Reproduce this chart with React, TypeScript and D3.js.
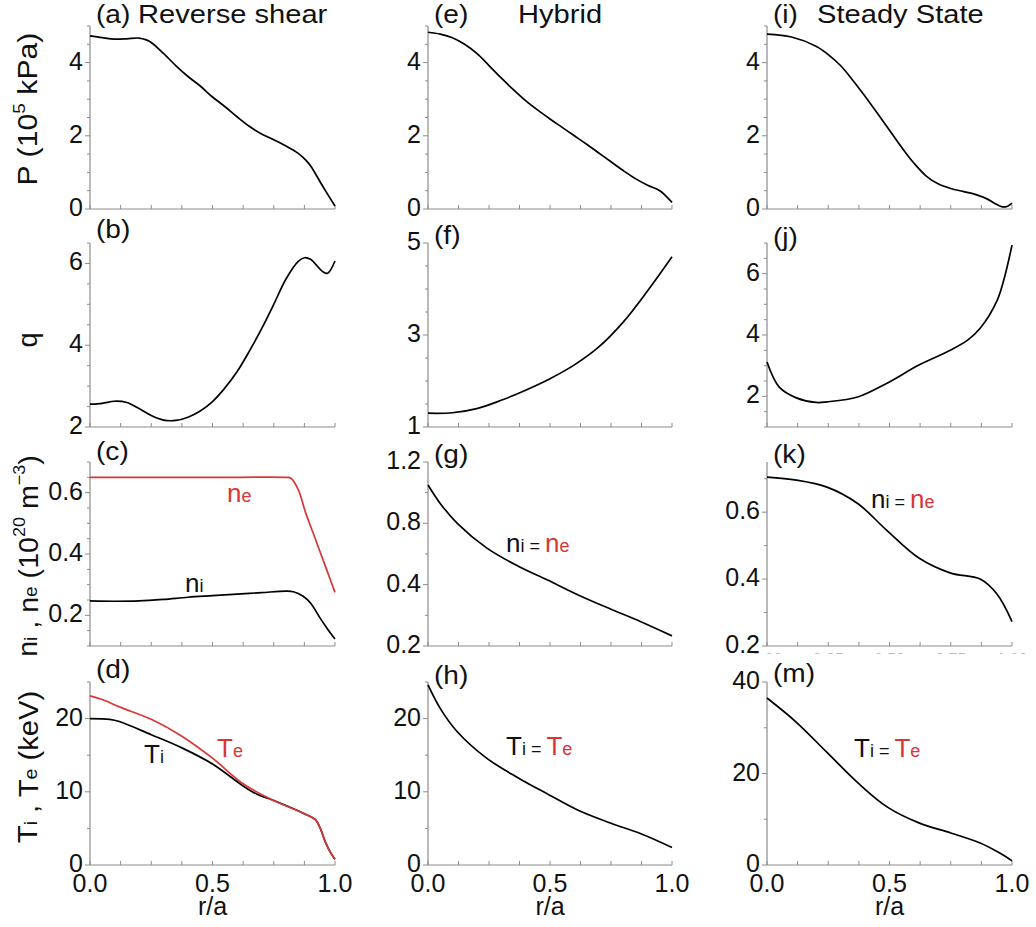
import React from "react";
import * as d3 from "d3";

// ---------- data ----------
// (a) pressure, reverse shear
const rA = [0, 0.05, 0.1, 0.15, 0.2, 0.23, 0.25, 0.3, 0.35, 0.4, 0.45, 0.5, 0.55, 0.6, 0.65, 0.7, 0.75, 0.8, 0.85, 0.88, 0.9, 0.95, 1.0];
const pA = [4.73, 4.68, 4.64, 4.65, 4.67, 4.62, 4.55, 4.25, 3.92, 3.62, 3.36, 3.06, 2.8, 2.52, 2.26, 2.05, 1.89, 1.72, 1.52, 1.34, 1.18, 0.62, 0.08];
// (b) q, reverse shear
const rB = [0, 0.05, 0.1, 0.15, 0.2, 0.25, 0.3, 0.35, 0.4, 0.45, 0.5, 0.55, 0.6, 0.65, 0.7, 0.75, 0.8, 0.85, 0.875, 0.9, 0.95, 0.97, 1.0];
const qB = [2.56, 2.58, 2.63, 2.6, 2.45, 2.28, 2.17, 2.16, 2.24, 2.39, 2.62, 2.95, 3.35, 3.85, 4.4, 5.0, 5.62, 6.05, 6.14, 6.1, 5.8, 5.76, 6.06];
// (c) densities, reverse shear
const rCe = [0, 0.2, 0.4, 0.6, 0.8, 0.82, 0.85, 0.88, 0.91, 0.94, 0.97, 1.0];
const neC = [0.65, 0.65, 0.65, 0.65, 0.65, 0.647, 0.61, 0.535, 0.47, 0.405, 0.34, 0.275];
const rCi = [0, 0.1, 0.2, 0.3, 0.4, 0.5, 0.6, 0.7, 0.8, 0.83, 0.87, 0.9, 0.94, 0.97, 1.0];
const niC = [0.247, 0.246, 0.247, 0.252, 0.259, 0.264, 0.269, 0.274, 0.279, 0.277, 0.262, 0.24, 0.19, 0.155, 0.123];
// (d) temperatures, reverse shear
const rDe = [0, 0.05, 0.12, 0.25, 0.375, 0.5, 0.625, 0.75, 0.875, 0.92, 0.94, 0.96, 0.98, 1.0];
const teD = [23.1, 22.6, 21.6, 19.9, 17.6, 14.6, 11.1, 8.8, 7.0, 6.2, 5.0, 3.2, 1.8, 0.8];
const rDi = [0, 0.08, 0.12, 0.25, 0.375, 0.5, 0.625, 0.68, 0.75, 0.875, 0.92, 0.94, 0.96, 0.98, 1.0];
const tiD = [20.0, 19.9, 19.6, 17.8, 16.0, 13.8, 10.8, 9.7, 8.8, 7.0, 6.2, 5.0, 3.2, 1.8, 0.8];
// (e) pressure, hybrid
const rE = [0, 0.05, 0.1, 0.15, 0.2, 0.25, 0.3, 0.35, 0.4, 0.45, 0.5, 0.55, 0.6, 0.65, 0.7, 0.75, 0.8, 0.85, 0.9, 0.95, 1.0];
const pE = [4.83, 4.78, 4.68, 4.5, 4.25, 3.92, 3.58, 3.26, 2.96, 2.7, 2.46, 2.23, 2.0, 1.77, 1.53, 1.29, 1.05, 0.83, 0.65, 0.5, 0.18];
// (f) q, hybrid
const rF = [0, 0.1, 0.2, 0.3, 0.4, 0.5, 0.6, 0.7, 0.8, 0.9, 1.0];
const qF = [1.3, 1.31, 1.4, 1.58, 1.8, 2.05, 2.35, 2.74, 3.28, 3.96, 4.7];
// (g) density, hybrid
const rG = [0, 0.05, 0.12, 0.24, 0.37, 0.49, 0.62, 0.75, 0.87, 1.0];
const nG = [1.05, 0.93, 0.8, 0.64, 0.52, 0.43, 0.33, 0.24, 0.16, 0.066];
// (h) temperature, hybrid
const rH = [0, 0.05, 0.12, 0.24, 0.37, 0.49, 0.62, 0.75, 0.87, 1.0];
const tH = [24.6, 21.4, 18.2, 14.6, 11.9, 9.7, 7.4, 5.7, 4.3, 2.4];
// (i) pressure, steady state
const rI = [0, 0.1, 0.2, 0.25, 0.3, 0.35, 0.4, 0.45, 0.5, 0.55, 0.6, 0.65, 0.7, 0.75, 0.8, 0.85, 0.9, 0.93, 0.96, 0.98, 1.0];
const pI = [4.78, 4.7, 4.45, 4.22, 3.92, 3.52, 3.08, 2.62, 2.15, 1.68, 1.25, 0.9, 0.68, 0.56, 0.48, 0.4, 0.27, 0.15, 0.06, 0.07, 0.16];
// (j) q, steady state
const rJ = [0, 0.05, 0.12, 0.2, 0.245, 0.37, 0.49, 0.62, 0.75, 0.82, 0.87, 0.94, 0.97, 1.0];
const qJ = [3.12, 2.3, 1.95, 1.8, 1.82, 1.98, 2.43, 3.02, 3.51, 3.84, 4.22, 5.14, 5.9, 6.93];
// (k) density, steady state
const rK = [0, 0.12, 0.245, 0.37, 0.49, 0.62, 0.75, 0.87, 0.94, 1.0];
const nK = [0.705, 0.696, 0.675, 0.626, 0.545, 0.463, 0.418, 0.4, 0.354, 0.273];
// (m) temperature, steady state
const rM = [0, 0.12, 0.245, 0.37, 0.49, 0.62, 0.75, 0.87, 0.95, 1.0];
const tM = [36.5, 31.2, 24.6, 18.0, 12.7, 9.2, 7.0, 4.8, 2.6, 0.9];

const columnTitles = ["Reverse shear", "Hybrid", "Steady State"];
const xTickLabels = [0, 0.5, 1.0];
const faintTicks = [0, 0.25, 0.5, 0.75, 1.0];

// ---------- styling / layout ----------
const FONT = "'Liberation Sans', Arial, sans-serif";
const RED = "#d93636";
const AXIS = "#8c8c8c";
const INK = "#111";
const colX = [[90, 335], [428, 672], [767, 1012]];
const rowY = [[26, 209], [243, 427], [462, 646], [682, 865]];

type Series = { r: number[]; v: number[]; color: string };
type Panel = {
  tag: string; col: number; row: number; domain: [number, number];
  step: number; labels: number[]; fmt?: (v: number) => string;
  series: Series[]; tagDy: number;
};

const f0 = (v: number) => d3.format("d")(v);
const f1 = (v: number) => d3.format(".1f")(v);

const panels: Panel[] = [
  { tag: "(a)", col: 0, row: 0, domain: [0, 5], step: 0.5, labels: [0, 2, 4], fmt: f0, series: [{ r: rA, v: pA, color: "#000" }], tagDy: -3 },
  { tag: "(b)", col: 0, row: 1, domain: [2, 6.5], step: 0.5, labels: [2, 4, 6], fmt: f0, series: [{ r: rB, v: qB, color: "#000" }], tagDy: -5 },
  { tag: "(c)", col: 0, row: 2, domain: [0.1, 0.7], step: 0.05, labels: [0.2, 0.4, 0.6], fmt: f1, series: [{ r: rCe, v: neC, color: RED }, { r: rCi, v: niC, color: "#000" }], tagDy: -2 },
  { tag: "(d)", col: 0, row: 3, domain: [0, 25], step: 5, labels: [0, 10, 20], fmt: f0, series: [{ r: rDi, v: tiD, color: "#000" }, { r: rDe, v: teD, color: RED }], tagDy: -4 },
  { tag: "(e)", col: 1, row: 0, domain: [0, 5], step: 0.5, labels: [0, 2, 4], fmt: f0, series: [{ r: rE, v: pE, color: "#000" }], tagDy: -3 },
  { tag: "(f)", col: 1, row: 1, domain: [1, 5], step: 0.5, labels: [1, 3, 5], fmt: f0, series: [{ r: rF, v: qF, color: "#000" }], tagDy: 1 },
  { tag: "(g)", col: 1, row: 2, domain: [0, 1.2], step: 0.2, labels: [0, 0.4, 0.8, 1.2], fmt: (v) => (v === 0 ? "0.2" : f1(v)), series: [{ r: rG, v: nG, color: "#000" }], tagDy: 1 },
  { tag: "(h)", col: 1, row: 3, domain: [0, 25], step: 5, labels: [0, 10, 20], fmt: f0, series: [{ r: rH, v: tH, color: "#000" }], tagDy: 2 },
  { tag: "(i)", col: 2, row: 0, domain: [0, 5], step: 0.5, labels: [0, 2, 4], fmt: f0, series: [{ r: rI, v: pI, color: "#000" }], tagDy: -3 },
  { tag: "(j)", col: 2, row: 1, domain: [1, 7], step: 0.5, labels: [2, 4, 6], fmt: f0, series: [{ r: rJ, v: qJ, color: "#000" }], tagDy: 3 },
  { tag: "(k)", col: 2, row: 2, domain: [0.2, 0.75], step: 0.1, labels: [0.2, 0.4, 0.6], fmt: f1, series: [{ r: rK, v: nK, color: "#000" }], tagDy: 1 },
  { tag: "(m)", col: 2, row: 3, domain: [0, 40], step: 10, labels: [0, 20, 40], fmt: f0, series: [{ r: rM, v: tM, color: "#000" }], tagDy: 0 },
];

function PanelView({ p }: { p: Panel }) {
  const [x0, x1] = colX[p.col];
  const [y0, y1] = rowY[p.row];
  const x = d3.scaleLinear().domain([0, 1]).range([x0, x1]);
  const y = d3.scaleLinear().domain(p.domain).range([y1, y0]);
  const yt: number[] = [];
  for (let v = p.domain[0]; v <= p.domain[1] + 1e-9; v += p.step) yt.push(+v.toFixed(6));
  const xt = d3.range(0, 1.0001, 0.125);
  const line = d3.line<[number, number]>().x((d) => x(d[0])).y((d) => y(d[1])).curve(d3.curveCatmullRom.alpha(0.5));
  return (
    <g>
      <line x1={x0} x2={x0} y1={y(p.domain[1])} y2={y1} stroke={AXIS} strokeWidth={1.2} />
      <line x1={x0} x2={x1} y1={y1} y2={y1} stroke={AXIS} strokeWidth={1.2} />
      {yt.map((v, i) => (
        <line key={"yt" + i} x1={x0 - (p.labels.some((l) => Math.abs(l - v) < 1e-6) ? 5 : 3)} x2={x0} y1={y(v)} y2={y(v)} stroke={AXIS} strokeWidth={1} />
      ))}
      {xt.map((v, i) => (
        <line key={"xt" + i} x1={x(v)} x2={x(v)} y1={y1} y2={y1 - 4} stroke={AXIS} strokeWidth={1} />
      ))}
      {p.labels.map((v, i) => (
        <text key={"yl" + i} x={x0 - 7} y={y(v) - 2} dy="0.36em" textAnchor="end" fontSize={25} fontFamily={FONT} fill={INK}>
          {p.fmt ? p.fmt(v) : String(v)}
        </text>
      ))}
      {p.series.map((s, i) => (
        <path key={"s" + i} d={line(s.r.map((r, j) => [r, s.v[j]] as [number, number])) || ""} fill="none" stroke={s.color} strokeWidth={1.7} />
      ))}
      <text transform={`translate(${x0 + 6},${y0 + p.tagDy}) scale(1.08,1)`} fontSize={26} fontFamily={FONT} fill={INK}>{p.tag}</text>
    </g>
  );
}

function Sub({ children, red }: { children: React.ReactNode; red?: boolean }) {
  return <tspan fontSize={18} fill={red ? RED : INK}>{children}</tspan>;
}

export default function App() {
  const colCenter = colX.map(([a, b]) => (a + b) / 2);
  const kX = d3.scaleLinear().domain([0, 1]).range(colX[2]);
  const titleX = [138, 518, 817];
  return (
    <div style={{ position: "absolute", left: 0, top: 0 }}>
      <svg width={1036} height={927} viewBox="0 0 1036 927" style={{ display: "block", background: "#fff" }}>
        <rect width={1036} height={927} fill="#fff" />
        <defs>
          <clipPath id="kclip"><rect x={740} y={650} width={296} height={4} /></clipPath>
        </defs>
        {panels.map((p) => <PanelView key={p.tag} p={p} />)}

        {/* column titles */}
        {columnTitles.map((t, i) => (
          <text key={t} transform={`translate(${titleX[i]},23) scale(1.12,1)`} fontSize={26} fontFamily={FONT} fill={INK}>{t}</text>
        ))}

        {/* y axis titles */}
        <g fontFamily={FONT} fontSize={27} fill={INK}>
          <text transform="translate(28,109) rotate(-90) scale(1.12,1)" textAnchor="middle" dominantBaseline="central">
            P (10<tspan fontSize={17} dy={-9}>5</tspan><tspan dy={9}> kPa)</tspan>
          </text>
          <text transform="translate(28,340) rotate(-90)" textAnchor="middle" dominantBaseline="central">q</text>
          <text transform="translate(28,556) rotate(-90) scale(1.06,1)" textAnchor="middle" dominantBaseline="central">
            n<tspan fontSize={18} dy={2}>i</tspan><tspan dy={-2}> , n</tspan><tspan fontSize={18} dy={2}>e</tspan><tspan dy={-2}> (10</tspan><tspan fontSize={17} dy={-9}>20</tspan><tspan dy={9}> m</tspan><tspan fontSize={17} dy={-9}>−3</tspan><tspan dy={9}>)</tspan>
          </text>
          <text transform="translate(28,767) rotate(-90) scale(1.08,1)" textAnchor="middle" dominantBaseline="central">
            T<tspan fontSize={18} dy={2}>i</tspan><tspan dy={-2}> , T</tspan><tspan fontSize={18} dy={2}>e</tspan><tspan dy={-2}> (keV)</tspan>
          </text>
        </g>

        {/* x tick labels and titles */}
        {colX.map(([a, b], ci) => {
          const x = d3.scaleLinear().domain([0, 1]).range([a, b]);
          return (
            <g key={"xl" + ci} fontFamily={FONT} fill={INK}>
              {xTickLabels.map((v, i) => (
                <text key={i} x={x(v)} y={892} textAnchor="middle" fontSize={25}>{d3.format(".1f")(v)}</text>
              ))}
              <text x={colCenter[ci]} y={915} textAnchor="middle" fontSize={25}>r/a</text>
            </g>
          );
        })}

        {/* faint cut-off tick labels under (k) */}
        <g clipPath="url(#kclip)" fontFamily={FONT} fontSize={16} fill="#bbb">
          {faintTicks.map((v, i) => (
            <text key={i} x={kX(v)} y={665} textAnchor="middle">{d3.format(".2f")(v)}</text>
          ))}
        </g>

        {/* annotations */}
        <g fontFamily={FONT} fontSize={26} fill={INK}>
          <text x={227} y={502} fill={RED}>n<Sub red>e</Sub></text>
          <text x={185} y={592}>n<Sub>i</Sub></text>
          <text x={144} y={763}>T<Sub>i</Sub></text>
          <text x={217} y={757} fill={RED}>T<Sub red>e</Sub></text>
          <text x={506} y={552}>n<Sub>i</Sub><tspan fontSize={18}> = </tspan><tspan fill={RED}>n</tspan><Sub red>e</Sub></text>
          <text x={506} y={755}>T<Sub>i</Sub><tspan fontSize={18}> = </tspan><tspan fill={RED}>T</tspan><Sub red>e</Sub></text>
          <text x={871} y={508}>n<Sub>i</Sub><tspan fontSize={18}> = </tspan><tspan fill={RED}>n</tspan><Sub red>e</Sub></text>
          <text x={854} y={757}>T<Sub>i</Sub><tspan fontSize={18}> = </tspan><tspan fill={RED}>T</tspan><Sub red>e</Sub></text>
        </g>
      </svg>
    </div>
  );
}
